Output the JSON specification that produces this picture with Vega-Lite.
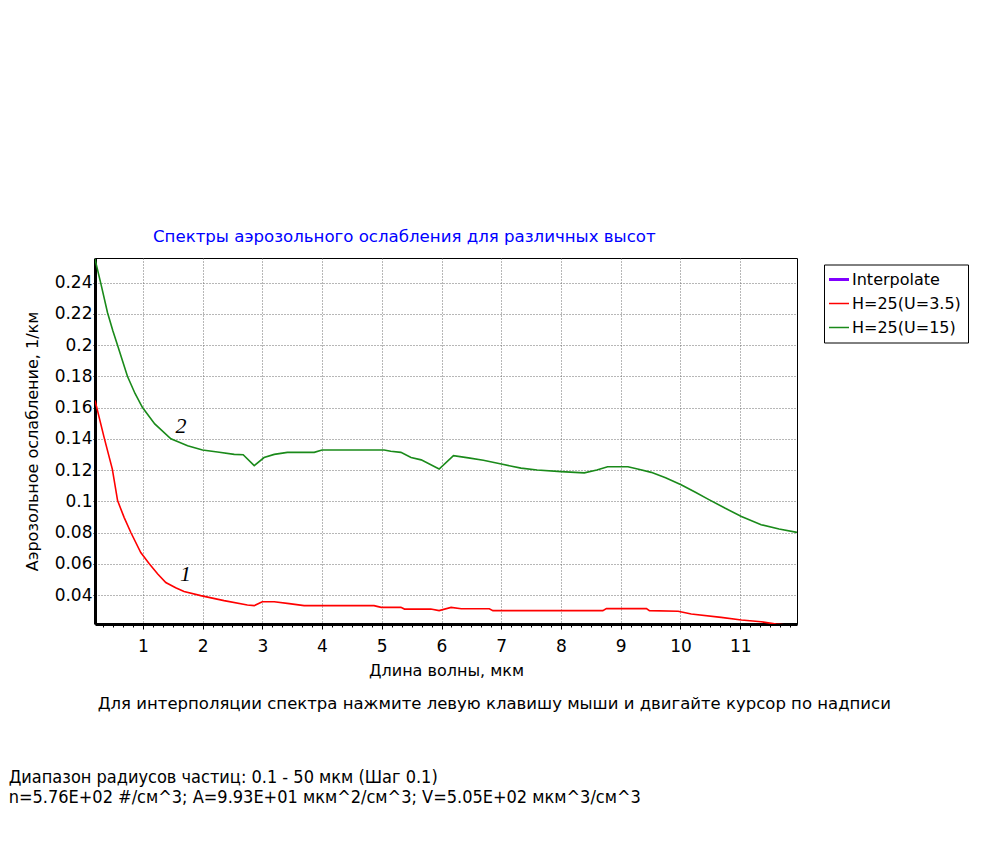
{
  "$schema": "https://vega.github.io/schema/vega-lite/v6.json",
  "background": "white",
  "padding": {"left": 8, "top": 228, "right": 0, "bottom": 0},
  "datasets": {
    "curves": [
      {"wl": 0.2, "ext": 0.255, "series": "H=25(U=15)"},
      {"wl": 0.3, "ext": 0.239, "series": "H=25(U=15)"},
      {"wl": 0.41, "ext": 0.2207, "series": "H=25(U=15)"},
      {"wl": 0.5, "ext": 0.209, "series": "H=25(U=15)"},
      {"wl": 0.576, "ext": 0.2, "series": "H=25(U=15)"},
      {"wl": 0.66, "ext": 0.19, "series": "H=25(U=15)"},
      {"wl": 0.743, "ext": 0.18, "series": "H=25(U=15)"},
      {"wl": 0.87, "ext": 0.169, "series": "H=25(U=15)"},
      {"wl": 0.995, "ext": 0.16, "series": "H=25(U=15)"},
      {"wl": 1.2, "ext": 0.1495, "series": "H=25(U=15)"},
      {"wl": 1.47, "ext": 0.14, "series": "H=25(U=15)"},
      {"wl": 1.6, "ext": 0.138, "series": "H=25(U=15)"},
      {"wl": 1.75, "ext": 0.1356, "series": "H=25(U=15)"},
      {"wl": 2.0, "ext": 0.1328, "series": "H=25(U=15)"},
      {"wl": 2.25, "ext": 0.1315, "series": "H=25(U=15)"},
      {"wl": 2.53, "ext": 0.13, "series": "H=25(U=15)"},
      {"wl": 2.68, "ext": 0.1298, "series": "H=25(U=15)"},
      {"wl": 2.865, "ext": 0.1228, "series": "H=25(U=15)"},
      {"wl": 3.03, "ext": 0.128, "series": "H=25(U=15)"},
      {"wl": 3.2, "ext": 0.13, "series": "H=25(U=15)"},
      {"wl": 3.42, "ext": 0.1313, "series": "H=25(U=15)"},
      {"wl": 3.87, "ext": 0.1313, "series": "H=25(U=15)"},
      {"wl": 4.0, "ext": 0.1328, "series": "H=25(U=15)"},
      {"wl": 5.04, "ext": 0.1328, "series": "H=25(U=15)"},
      {"wl": 5.15, "ext": 0.132, "series": "H=25(U=15)"},
      {"wl": 5.32, "ext": 0.1313, "series": "H=25(U=15)"},
      {"wl": 5.49, "ext": 0.128, "series": "H=25(U=15)"},
      {"wl": 5.66, "ext": 0.1265, "series": "H=25(U=15)"},
      {"wl": 5.96, "ext": 0.1206, "series": "H=25(U=15)"},
      {"wl": 6.2, "ext": 0.1292, "series": "H=25(U=15)"},
      {"wl": 6.45, "ext": 0.1278, "series": "H=25(U=15)"},
      {"wl": 6.7, "ext": 0.1262, "series": "H=25(U=15)"},
      {"wl": 7.0, "ext": 0.1238, "series": "H=25(U=15)"},
      {"wl": 7.33, "ext": 0.1212, "series": "H=25(U=15)"},
      {"wl": 7.6, "ext": 0.12, "series": "H=25(U=15)"},
      {"wl": 8.0, "ext": 0.119, "series": "H=25(U=15)"},
      {"wl": 8.39, "ext": 0.1182, "series": "H=25(U=15)"},
      {"wl": 8.6, "ext": 0.12, "series": "H=25(U=15)"},
      {"wl": 8.78, "ext": 0.1221, "series": "H=25(U=15)"},
      {"wl": 9.12, "ext": 0.1221, "series": "H=25(U=15)"},
      {"wl": 9.3, "ext": 0.1205, "series": "H=25(U=15)"},
      {"wl": 9.51, "ext": 0.1185, "series": "H=25(U=15)"},
      {"wl": 9.75, "ext": 0.115, "series": "H=25(U=15)"},
      {"wl": 10.01, "ext": 0.1106, "series": "H=25(U=15)"},
      {"wl": 10.25, "ext": 0.1058, "series": "H=25(U=15)"},
      {"wl": 10.46, "ext": 0.1014, "series": "H=25(U=15)"},
      {"wl": 10.75, "ext": 0.0955, "series": "H=25(U=15)"},
      {"wl": 11.02, "ext": 0.0903, "series": "H=25(U=15)"},
      {"wl": 11.35, "ext": 0.085, "series": "H=25(U=15)"},
      {"wl": 11.65, "ext": 0.0822, "series": "H=25(U=15)"},
      {"wl": 11.95, "ext": 0.0801, "series": "H=25(U=15)"},
      {"wl": 0.2, "ext": 0.1645, "series": "H=25(U=3.5)"},
      {"wl": 0.352, "ext": 0.1409, "series": "H=25(U=3.5)"},
      {"wl": 0.49, "ext": 0.1206, "series": "H=25(U=3.5)"},
      {"wl": 0.578, "ext": 0.1004, "series": "H=25(U=3.5)"},
      {"wl": 0.687, "ext": 0.0897, "series": "H=25(U=3.5)"},
      {"wl": 0.8, "ext": 0.08, "series": "H=25(U=3.5)"},
      {"wl": 0.966, "ext": 0.0672, "series": "H=25(U=3.5)"},
      {"wl": 1.105, "ext": 0.0602, "series": "H=25(U=3.5)"},
      {"wl": 1.25, "ext": 0.0535, "series": "H=25(U=3.5)"},
      {"wl": 1.385, "ext": 0.048, "series": "H=25(U=3.5)"},
      {"wl": 1.55, "ext": 0.0447, "series": "H=25(U=3.5)"},
      {"wl": 1.69, "ext": 0.0423, "series": "H=25(U=3.5)"},
      {"wl": 1.97, "ext": 0.0396, "series": "H=25(U=3.5)"},
      {"wl": 2.36, "ext": 0.0364, "series": "H=25(U=3.5)"},
      {"wl": 2.75, "ext": 0.0336, "series": "H=25(U=3.5)"},
      {"wl": 2.865, "ext": 0.0332, "series": "H=25(U=3.5)"},
      {"wl": 3.0, "ext": 0.0357, "series": "H=25(U=3.5)"},
      {"wl": 3.2, "ext": 0.0357, "series": "H=25(U=3.5)"},
      {"wl": 3.45, "ext": 0.0345, "series": "H=25(U=3.5)"},
      {"wl": 3.7, "ext": 0.0332, "series": "H=25(U=3.5)"},
      {"wl": 4.87, "ext": 0.0332, "series": "H=25(U=3.5)"},
      {"wl": 4.99, "ext": 0.0321, "series": "H=25(U=3.5)"},
      {"wl": 5.32, "ext": 0.0321, "series": "H=25(U=3.5)"},
      {"wl": 5.38, "ext": 0.031, "series": "H=25(U=3.5)"},
      {"wl": 5.82, "ext": 0.031, "series": "H=25(U=3.5)"},
      {"wl": 5.96, "ext": 0.03, "series": "H=25(U=3.5)"},
      {"wl": 6.16, "ext": 0.0321, "series": "H=25(U=3.5)"},
      {"wl": 6.33, "ext": 0.0312, "series": "H=25(U=3.5)"},
      {"wl": 6.8, "ext": 0.0312, "series": "H=25(U=3.5)"},
      {"wl": 6.86, "ext": 0.03, "series": "H=25(U=3.5)"},
      {"wl": 8.7, "ext": 0.03, "series": "H=25(U=3.5)"},
      {"wl": 8.76, "ext": 0.0313, "series": "H=25(U=3.5)"},
      {"wl": 9.43, "ext": 0.0313, "series": "H=25(U=3.5)"},
      {"wl": 9.48, "ext": 0.03, "series": "H=25(U=3.5)"},
      {"wl": 9.96, "ext": 0.0296, "series": "H=25(U=3.5)"},
      {"wl": 10.18, "ext": 0.0278, "series": "H=25(U=3.5)"},
      {"wl": 10.68, "ext": 0.0257, "series": "H=25(U=3.5)"},
      {"wl": 11.02, "ext": 0.024, "series": "H=25(U=3.5)"},
      {"wl": 11.35, "ext": 0.0229, "series": "H=25(U=3.5)"},
      {"wl": 11.6, "ext": 0.0214, "series": "H=25(U=3.5)"},
      {"wl": 12.0, "ext": 0.02, "series": "H=25(U=3.5)"}
    ],
    "labels": [
      {"wl": 1.713, "ext": 0.0534, "label": "1"},
      {"wl": 1.64, "ext": 0.1483, "label": "2"}
    ]
  },
  "config": {
    "font": "DejaVu Sans",
    "view": {"stroke": "black", "strokeWidth": 1},
    "axis": {
      "labelFont": "DejaVu Sans",
      "labelFontSize": 17,
      "labelColor": "black",
      "labelOverlap": false,
      "titleFont": "DejaVu Sans",
      "titleFontSize": 16,
      "titleFontWeight": "normal",
      "titleColor": "black",
      "domainColor": "black",
      "domainWidth": 3,
      "tickColor": "black",
      "gridColor": "#6e6e6e",
      "gridDash": [1, 2],
      "gridWidth": 1
    },
    "legend": {
      "labelFont": "DejaVu Sans",
      "labelFontSize": 16,
      "labelColor": "black"
    },
    "title": {"fontWeight": "normal"}
  },
  "title": {
    "text": ["Диапазон радиусов частиц: 0.1 - 50 мкм (Шаг 0.1)", "n=5.76E+02 #/см^3; A=9.93E+01 мкм^2/см^3; V=5.05E+02 мкм^3/см^3"],
    "orient": "bottom",
    "anchor": "start",
    "dx": -15,
    "offset": 57,
    "font": "Liberation Sans Narrow, DejaVu Sans Condensed, Liberation Sans",
    "fontSize": 18,
    "lineHeight": 20,
    "color": "black"
  },
  "vconcat": [
    {
      "title": {
        "text": "Для интерполяции спектра нажмите левую клавишу мыши и двигайте курсор по надписи",
        "orient": "bottom",
        "anchor": "start",
        "dx": 74,
        "offset": 17,
        "font": "DejaVu Sans",
        "fontSize": 16.5,
        "color": "black"
      },
      "vconcat": [
        {
          "title": {
            "text": "Спектры аэрозольного ослабления для различных высот",
            "anchor": "start",
            "frame": "group",
            "dx": 58,
            "offset": 12,
            "font": "DejaVu Sans",
            "fontSize": 16.6,
            "color": "#0000ff"
          },
          "width": 702,
          "height": 366,
          "resolve": {"axis": {"x": "independent"}},
          "layer": [
            {
              "data": {"name": "curves"},
              "mark": {"type": "line", "strokeWidth": 1.6, "clip": true},
              "encoding": {
                "x": {
                  "field": "wl",
                  "type": "quantitative",
                  "scale": {"domain": [0.2, 11.95], "nice": false, "zero": false},
                  "axis": {
                    "orient": "bottom",
                    "title": "Длина волны, мкм",
                    "values": [1, 2, 3, 4, 5, 6, 7, 8, 9, 10, 11],
                    "format": "d",
                    "labelOverlap": false,
                    "tickSize": 5,
                    "labelPadding": 9,
                    "titlePadding": 8
                  }
                },
                "y": {
                  "field": "ext",
                  "type": "quantitative",
                  "scale": {"domain": [0.02145, 0.2557], "nice": false, "zero": false},
                  "axis": {
                    "title": "Аэрозольное ослабление, 1/км",
                    "values": [0.04, 0.06, 0.08, 0.1, 0.12, 0.14, 0.16, 0.18, 0.2, 0.22, 0.24],
                    "format": ".2~f",
                    "labelOverlap": false,
                    "tickSize": 2,
                    "labelPadding": 1,
                    "titlePadding": 14
                  }
                },
                "color": {
                  "field": "series",
                  "type": "nominal",
                  "scale": {
                    "domain": ["Interpolate", "H=25(U=3.5)", "H=25(U=15)"],
                    "range": ["#8000ff", "#ff0000", "#1a8a1a"]
                  },
                  "legend": {
                    "title": null,
                    "orient": "none",
                    "legendX": 729,
                    "legendY": 6.5,
                    "fillColor": "white",
                    "strokeColor": "black",
                    "padding": 7,
                    "symbolType": "stroke",
                    "symbolSize": 400,
                    "symbolStrokeWidth": 1.5,
                    "labelOffset": 5,
                    "rowPadding": 8,
                    "encode": {
                      "symbols": {
                        "update": {
                          "strokeWidth": {"signal": "datum.value === 'Interpolate' ? 3 : 1.5"}
                        }
                      }
                    }
                  }
                }
              }
            },
            {
              "data": {"name": "labels"},
              "mark": {"type": "text", "font": "Liberation Serif", "fontStyle": "italic", "fontSize": 22, "color": "black"},
              "encoding": {
                "x": {
                  "field": "wl",
                  "type": "quantitative",
                  "axis": {
                    "orient": "bottom",
                    "title": null,
                    "labels": false,
                    "grid": false,
                    "domain": false,
                    "ticks": true,
                    "tickSize": 3,
                    "values": [0.333,0.5,0.667,0.833,1.167,1.333,1.5,1.667,1.833,2.167,2.333,2.5,2.667,2.833,3.167,3.333,3.5,3.667,3.833,4.167,4.333,4.5,4.667,4.833,5.167,5.333,5.5,5.667,5.833,6.167,6.333,6.5,6.667,6.833,7.167,7.333,7.5,7.667,7.833,8.167,8.333,8.5,8.667,8.833,9.167,9.333,9.5,9.667,9.833,10.167,10.333,10.5,10.667,10.833,11.167,11.333,11.5,11.667,11.833]
                  }
                },
                "y": {
                  "field": "ext",
                  "type": "quantitative",
                  "axis": {
                    "title": "Аэрозольное ослабление, 1/км",
                    "values": [0.04, 0.06, 0.08, 0.1, 0.12, 0.14, 0.16, 0.18, 0.2, 0.22, 0.24],
                    "format": ".2~f",
                    "labelOverlap": false,
                    "tickSize": 2,
                    "labelPadding": 1,
                    "titlePadding": 14
                  }
                },
                "text": {"field": "label"}
              }
            }
          ]
        }
      ]
    }
  ]
}
